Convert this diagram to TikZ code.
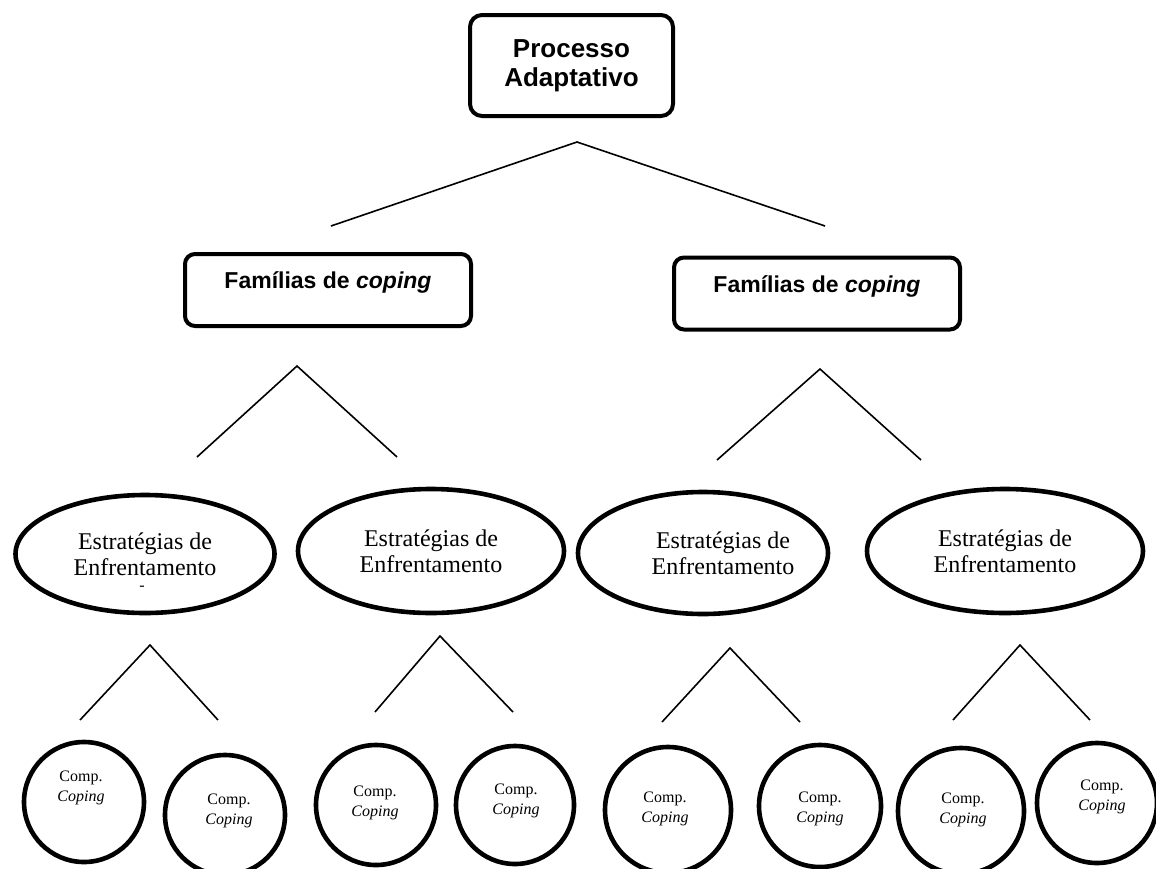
\documentclass[tikz,border=0pt]{standalone}
\usepackage{fontspec}
\setmainfont{Liberation Serif}
\newfontfamily\arialfont{Liberation Sans}
\usepackage{tikz}
\usetikzlibrary{shapes}
\tikzstyle{topbox} = [draw=black, line width=2pt, rounded corners=6pt, align=center, font=\arialfont\bfseries\fontsize{13}{14.5}\selectfont]
\tikzstyle{familybox} = [draw=black, line width=2pt, rounded corners=5pt, text depth=9.5pt, font=\arialfont\bfseries\fontsize{11.5}{13}\selectfont]
\tikzstyle{strategy} = [draw=black, line width=2.3pt, ellipse, inner sep=0pt, align=center, font=\fontsize{12}{13.2}\selectfont]
\tikzstyle{component} = [draw=black, line width=2.3pt, circle, inner sep=0pt]
\tikzstyle{comptext} = [inner sep=0pt, align=center, font=\fontsize{8}{10}\selectfont]
\tikzstyle{branch} = [line width=0.8pt]

\begin{document}
\begin{tikzpicture}[x=0.5pt, y=-0.5pt]
        % Bounding box
        \useasboundingbox (0,0) rectangle (1156,868);

        % Nodes
        \node[topbox, minimum width=101.5pt, minimum height=50.5pt] (proc) at (571.5,65.5) {Processo\\Adaptativo};

        \node[familybox, minimum width=143pt, minimum height=36pt] (fam1) at (328,290) {Famílias de \textit{coping}};
        \node[familybox, minimum width=143pt, minimum height=36pt] (fam2) at (817,293.5) {Famílias de \textit{coping}};

        \node[strategy, minimum width=129.5pt, minimum height=59pt] (est1) at (145,554) {Estratégias de\\Enfrentamento};
        \node[strategy, minimum width=133pt, minimum height=62pt] (est2) at (431,551) {Estratégias de\\Enfrentamento};
        \node[strategy, minimum width=125pt, minimum height=61pt] (est3) at (703,553) {};
        \node[strategy, minimum width=138pt, minimum height=62pt] (est4) at (1005,551) {Estratégias de\\Enfrentamento};
        \node[strategy, draw=none] (est3text) at (723,553) {Estratégias de\\Enfrentamento};
        \node[font=\fontsize{8}{10}\selectfont, inner sep=0pt] (est1mark) at (142,588) {-};

        \node[component, minimum size=60pt] (comp1) at (84,802)   {};
        \node[component, minimum size=60pt] (comp2) at (225,815)  {};
        \node[component, minimum size=60pt] (comp3) at (376,805)  {};
        \node[component, minimum size=59pt] (comp4) at (515,805)  {};
        \node[component, minimum size=63pt] (comp5) at (668,810)  {};
        \node[component, minimum size=61pt] (comp6) at (820,806)  {};
        \node[component, minimum size=63pt] (comp7) at (961,811)  {};
        \node[component, minimum size=60pt] (comp8) at (1097,803) {};

        \node[comptext] (comp1text) at (81,788)   {Comp.\\\textit{Coping}};
        \node[comptext] (comp2text) at (229,811)  {Comp.\\\textit{Coping}};
        \node[comptext] (comp3text) at (375,803)  {Comp.\\\textit{Coping}};
        \node[comptext] (comp4text) at (516,801)  {Comp.\\\textit{Coping}};
        \node[comptext] (comp5text) at (665,809)  {Comp.\\\textit{Coping}};
        \node[comptext] (comp6text) at (820,809)  {Comp.\\\textit{Coping}};
        \node[comptext] (comp7text) at (963,810)  {Comp.\\\textit{Coping}};
        \node[comptext] (comp8text) at (1102,797) {Comp.\\\textit{Coping}};

        % Branch points
        \coordinate (procfork) at (577,142);
        \coordinate (procL) at (331,226);
        \coordinate (procR) at (825,226);
        \coordinate (fam1fork) at (297,366);
        \coordinate (fam1L) at (197,457);
        \coordinate (fam1R) at (397,457);
        \coordinate (fam2fork) at (820,369);
        \coordinate (fam2L) at (717,460);
        \coordinate (fam2R) at (921,460);
        \coordinate (est1fork) at (150,645);
        \coordinate (est1L) at (80,720);
        \coordinate (est1R) at (218,720);
        \coordinate (est2fork) at (440,636);
        \coordinate (est2L) at (375,712);
        \coordinate (est2R) at (513,712);
        \coordinate (est3fork) at (730,648);
        \coordinate (est3L) at (662,722);
        \coordinate (est3R) at (800,722);
        \coordinate (est4fork) at (1020,645);
        \coordinate (est4L) at (953,720);
        \coordinate (est4R) at (1090,720);

        % Edges
        \draw[branch] (procL) -- (procfork) -- (procR);
        \draw[branch] (fam1L) -- (fam1fork) -- (fam1R);
        \draw[branch] (fam2L) -- (fam2fork) -- (fam2R);
        \draw[branch] (est1L) -- (est1fork) -- (est1R);
        \draw[branch] (est2L) -- (est2fork) -- (est2R);
        \draw[branch] (est3L) -- (est3fork) -- (est3R);
        \draw[branch] (est4L) -- (est4fork) -- (est4R);

\end{tikzpicture}
\end{document}
